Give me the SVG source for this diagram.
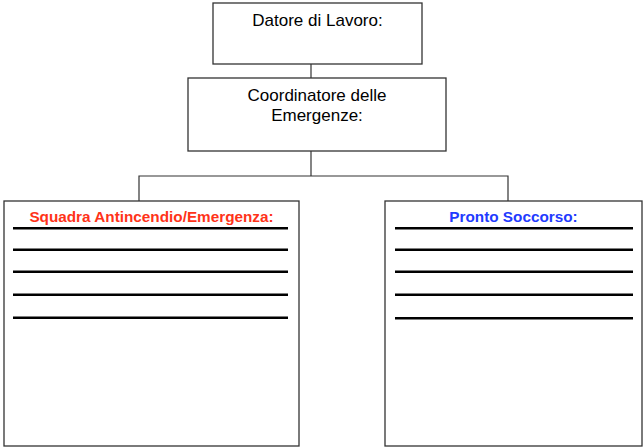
<svg xmlns="http://www.w3.org/2000/svg" width="644" height="447" viewBox="0 0 644 447">
  <style>
    .box { fill: #ffffff; stroke: #333333; stroke-width: 1.3; }
    .conn { fill: none; stroke: #333333; stroke-width: 1.2; }
    .rule { stroke: #000000; stroke-width: 2.6; }
    .label { font-family: "Liberation Sans", Arial, sans-serif; font-size: 17px; fill: #000000; text-anchor: middle; }
    .title { font-family: "Liberation Sans", Arial, sans-serif; font-size: 15.3px; font-weight: bold; text-anchor: middle; }
  </style>
  <rect width="644" height="447" fill="#ffffff"/>

  <g id="connectors">
    <line class="conn" x1="311" y1="64" x2="311" y2="78"/>
    <polyline class="conn" points="311,151 311,176"/>
    <polyline class="conn" points="139,201 139,176 508,176 508,201"/>
  </g>

  <g id="datore">
    <rect class="box" x="213" y="3" width="209" height="61"/>
    <text class="label" x="317.5" y="26">Datore di Lavoro:</text>
  </g>

  <g id="coordinatore">
    <rect class="box" x="188" y="78" width="258" height="73"/>
    <text class="label" x="317" y="101">Coordinatore delle</text>
    <text class="label" x="317" y="121">Emergenze:</text>
  </g>

  <g id="squadra">
    <rect class="box" x="4" y="201" width="295" height="245"/>
    <text class="title" x="151.5" y="221.5" fill="#ff3319">Squadra Antincendio/Emergenza:</text>
    <line class="rule" x1="13" y1="228.3" x2="288" y2="228.3"/>
    <line class="rule" x1="13" y1="249.7" x2="288" y2="249.7"/>
    <line class="rule" x1="13" y1="271.7" x2="288" y2="271.7"/>
    <line class="rule" x1="13" y1="294.7" x2="288" y2="294.7"/>
    <line class="rule" x1="13" y1="317.7" x2="288" y2="317.7"/>
  </g>

  <g id="pronto-soccorso">
    <rect class="box" x="385" y="201" width="257" height="245"/>
    <text class="title" x="513.5" y="221.5" fill="#1f3bff">Pronto Soccorso:</text>
    <line class="rule" x1="395" y1="228.3" x2="633" y2="228.3"/>
    <line class="rule" x1="395" y1="249.7" x2="633" y2="249.7"/>
    <line class="rule" x1="395" y1="271.7" x2="633" y2="271.7"/>
    <line class="rule" x1="395" y1="294.7" x2="633" y2="294.7"/>
    <line class="rule" x1="395" y1="318.3" x2="633" y2="318.3"/>
  </g>
</svg>
